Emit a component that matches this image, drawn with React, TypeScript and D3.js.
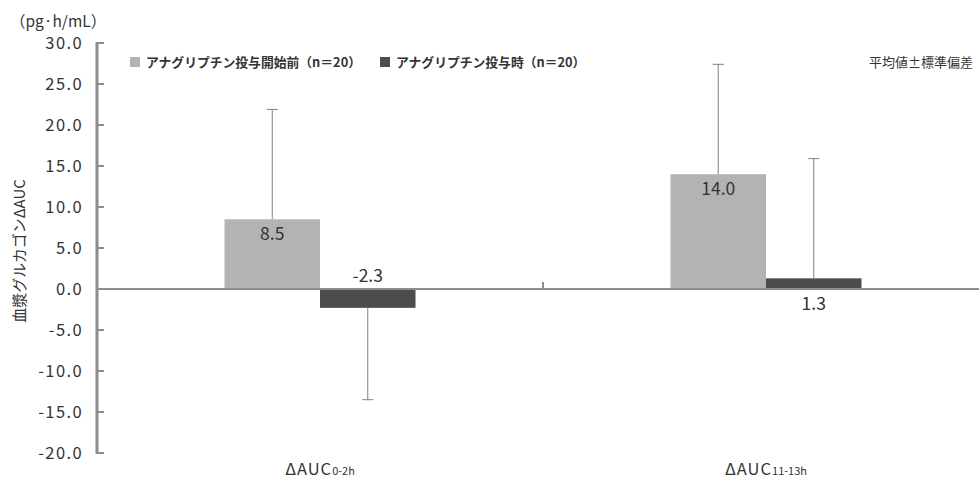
import React from "react";
import * as d3 from "d3";

const categories = ["0-2h", "11-13h"];
const seriesNames = ["アナグリプチン投与開始前（n＝20）", "アナグリプチン投与時（n＝20）"];
const beforeMeans = [8.5, 14.0];
const beforeSD = [13.4, 13.4];
const duringMeans = [-2.3, 1.3];
const duringSD = [11.2, 14.6];
const yTicks = [30, 25, 20, 15, 10, 5, 0, -5, -10, -15, -20];

const W = 979;
const H = 481;
const FONT = "'Noto Sans CJK JP', 'Noto Sans', sans-serif";
const COLORS = ["#b3b3b3", "#4d4d4d"];

export default function App() {
  const y = d3.scaleLinear().domain([-20, 30]).range([453, 43]);
  const x = d3.scaleBand<string>().domain(categories).range([97, 989]).padding(0);
  const barW = 95.5;

  const series = [
    { name: seriesNames[0], means: beforeMeans, sd: beforeSD, color: COLORS[0] },
    { name: seriesNames[1], means: duringMeans, sd: duringSD, color: COLORS[1] },
  ];

  const barCenter = (c: string, si: number) =>
    (x(c) as number) + x.bandwidth() / 2 - barW / 2 + si * barW;

  return (
    <svg
      width={W}
      height={H}
      style={{ position: "absolute", left: 0, top: 0, background: "#fff" }}
      fontFamily={FONT}
    >
      {/* bars */}
      {series.map((s, si) =>
        categories.map((c, ci) => {
          const v = s.means[ci];
          const top = y(Math.max(0, v));
          const bot = y(Math.min(0, v));
          return (
            <rect
              key={`b${si}-${ci}`}
              x={barCenter(c, si) - barW / 2}
              y={top}
              width={barW}
              height={bot - top}
              fill={s.color}
            />
          );
        })
      )}

      {/* error bars, drawn away from zero */}
      {series.map((s, si) =>
        categories.map((c, ci) => {
          const cx = barCenter(c, si);
          const v = s.means[ci];
          const end = v >= 0 ? v + s.sd[ci] : v - s.sd[ci];
          return (
            <g key={`e${si}-${ci}`} stroke="#808080" strokeWidth={1}>
              <line x1={cx} x2={cx} y1={y(v)} y2={y(end)} />
              <line x1={cx - 5.5} x2={cx + 5.5} y1={y(end)} y2={y(end)} />
            </g>
          );
        })
      )}

      {/* zero line and category separator */}
      <line x1={97} x2={W} y1={y(0)} y2={y(0)} stroke="#8c8c8c" strokeWidth={2} />
      <line
        x1={x(categories[1]) as number}
        x2={x(categories[1]) as number}
        y1={y(0)}
        y2={y(0) - 7}
        stroke="#8c8c8c"
        strokeWidth={2}
      />

      {/* y axis */}
      <line x1={97} x2={97} y1={y(30) - 1} y2={y(-20) + 1} stroke="#8c8c8c" strokeWidth={3} />
      {yTicks.map((t) => (
        <g key={t}>
          <line x1={97} x2={104} y1={y(t)} y2={y(t)} stroke="#8c8c8c" strokeWidth={2} />
          <text
            x={83}
            y={y(t)}
            dy="0.36em"
            textAnchor="end"
            fontSize={16.5}
            letterSpacing={1.4}
            fill="#333"
          >
            {t.toFixed(1)}
          </text>
        </g>
      ))}

      {/* value labels */}
      {series.map((s, si) =>
        categories.map((c, ci) => {
          const v = s.means[ci];
          let ly: number;
          if (si === 0) ly = y(v) + 20.5;
          else if (v < 0) ly = y(0) - 7;
          else ly = y(0) + 21;
          return (
            <text
              key={`l${si}-${ci}`}
              x={barCenter(c, si)}
              y={ly}
              textAnchor="middle"
              fontSize={17.5}
              fill="#333"
            >
              {v.toFixed(1)}
            </text>
          );
        })
      )}

      {/* category labels */}
      {categories.map((c) => (
        <text
          key={`c${c}`}
          x={(x(c) as number) + x.bandwidth() / 2}
          y={475}
          textAnchor="middle"
          fontSize={16.5}
          fill="#333"
        >
          <tspan letterSpacing={1}>ΔAUC</tspan>
          <tspan fontSize={11}>{c}</tspan>
        </text>
      ))}

      {/* unit and y title */}
      <text x={10} y={27} fontSize={15.5} fill="#333">（pg·h/mL）</text>
      <text
        transform={`translate(25, 251) rotate(-90)`}
        textAnchor="middle"
        fontSize={15}
        fill="#333"
      >
        血漿グルカゴンΔAUC
      </text>

      {/* legend */}
      {series.map((s, si) => {
        const lx = si === 0 ? 130 : 380;
        return (
          <g key={`lg${si}`}>
            <rect x={lx} y={57} width={10} height={10} fill={s.color} />
            <text x={lx + 16} y={62} dy="0.36em" fontSize={12.8} fontWeight={700} fill="#333">
              {s.name}
            </text>
          </g>
        );
      })}
      <text x={973} y={62} dy="0.36em" textAnchor="end" fontSize={13} fill="#333">
        平均値±標準偏差
      </text>
    </svg>
  );
}
